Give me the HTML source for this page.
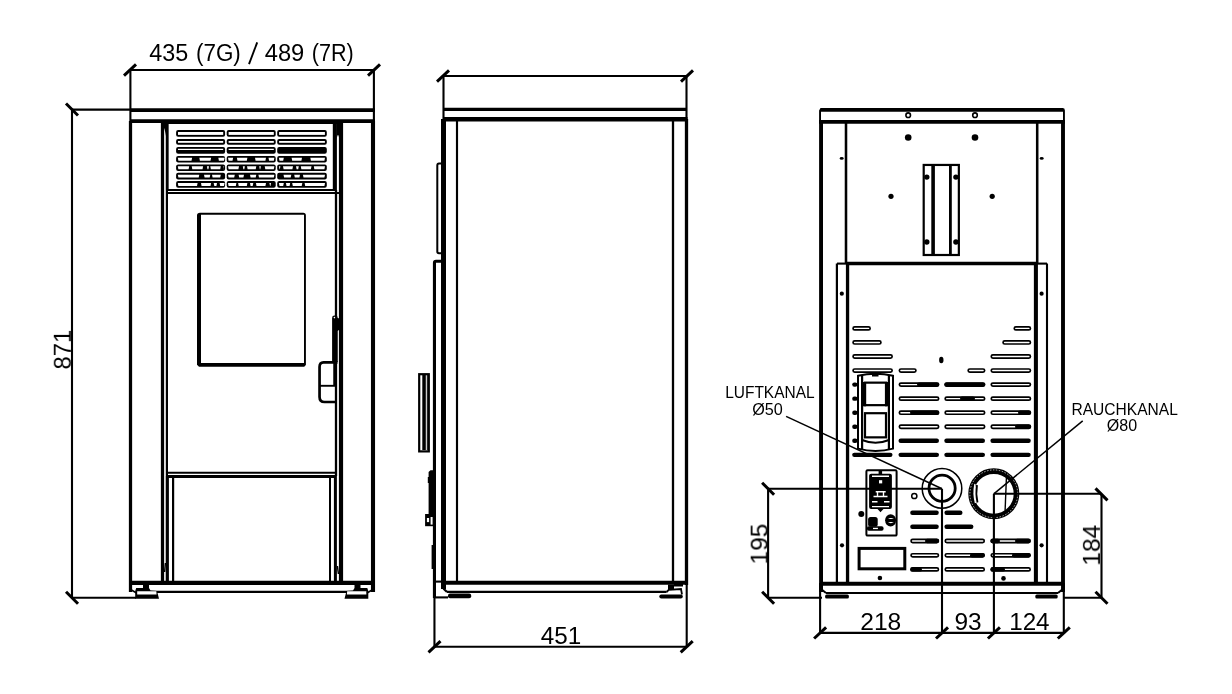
<!DOCTYPE html>
<html><head><meta charset="utf-8"><style>
html,body{margin:0;padding:0;background:#fff;}
svg{display:block;}
text{will-change:transform;}
text{font-family:"Liberation Sans",sans-serif;fill:#000;stroke:none;}
</style></head><body>
<svg width="1232" height="694" viewBox="0 0 1232 694">
<rect x="0" y="0" width="1232" height="694" fill="#fff"/>
<g stroke="#000" fill="none" stroke-linecap="butt">
<line x1="130" y1="70" x2="374" y2="70" stroke-width="2.1"/>
<line x1="130.4" y1="70" x2="130.4" y2="121" stroke-width="2.1"/>
<line x1="373.9" y1="70" x2="373.9" y2="121" stroke-width="2.1"/>
<line x1="124" y1="75.6" x2="136" y2="64.4" stroke-width="3"/>
<line x1="368" y1="75.6" x2="380" y2="64.4" stroke-width="3"/>
<text x="149.3" y="61" font-size="23.5" textLength="39" lengthAdjust="spacingAndGlyphs">435</text>
<text x="196" y="61" font-size="23.5" textLength="44.8" lengthAdjust="spacingAndGlyphs">(7G)</text>
<line x1="249" y1="64.2" x2="257.2" y2="42.4" stroke-width="1.9"/>
<text x="264.7" y="61" font-size="23.5" textLength="39.6" lengthAdjust="spacingAndGlyphs">489</text>
<text x="311.7" y="61" font-size="23.5" textLength="42" lengthAdjust="spacingAndGlyphs">(7R)</text>
<line x1="72" y1="109.5" x2="72" y2="597.7" stroke-width="2.1"/>
<line x1="72" y1="109.6" x2="130" y2="109.6" stroke-width="2.1"/>
<line x1="72" y1="597.7" x2="136" y2="597.7" stroke-width="2.1"/>
<line x1="66" y1="103.5" x2="78" y2="115.5" stroke-width="3"/>
<line x1="66" y1="591.7" x2="78" y2="603.7" stroke-width="3"/>
<text x="70.4" y="369.6" font-size="24.5" textLength="39.8" lengthAdjust="spacingAndGlyphs" transform="rotate(-90 70.4 369.6)">871</text>
<line x1="130" y1="110.1" x2="375" y2="110.1" stroke-width="3.8"/>
<line x1="130" y1="121.2" x2="375" y2="121.2" stroke-width="3.8"/>
<rect x="161" y="121" width="182" height="3" rx="0" stroke="none" fill="#000"/>
<line x1="130.5" y1="121" x2="130.5" y2="592" stroke-width="3.25"/>
<line x1="373" y1="121" x2="373" y2="592" stroke-width="4.1"/>
<line x1="162.5" y1="121" x2="162.5" y2="583" stroke-width="3.25"/>
<line x1="167.2" y1="121" x2="167.2" y2="190" stroke-width="2.9"/>
<line x1="166.9" y1="190" x2="166.9" y2="583" stroke-width="2.2"/>
<path d="M164,122 L166,122 L166,136 Q165,130 164,128 Z" stroke-width="0" fill="#000"/>
<rect x="332.8" y="121" width="4.1" height="69.5" rx="0" stroke="none" fill="#000"/>
<line x1="336" y1="190" x2="336" y2="476" stroke-width="2.3"/>
<line x1="341" y1="121" x2="341" y2="583" stroke-width="4.2"/>
<path d="M336.5,121 L339.5,121 L339.5,140 Q338,130 336.5,140 Z" stroke-width="0" fill="#000"/>
<line x1="167" y1="189.9" x2="335.9" y2="189.9" stroke-width="2"/>
<line x1="167" y1="193" x2="343" y2="193" stroke-width="2"/>
<rect x="176.1" y="130.1" width="49.0" height="6.7" rx="2" stroke="none" fill="#000"/>
<rect x="178.0" y="132.0" width="45.2" height="2.9" rx="0" stroke="none" fill="#fff"/>
<rect x="226.7" y="130.1" width="49.0" height="6.7" rx="2" stroke="none" fill="#000"/>
<rect x="228.6" y="132.0" width="45.2" height="2.9" rx="0" stroke="none" fill="#fff"/>
<rect x="277.2" y="130.1" width="49.6" height="6.7" rx="2" stroke="none" fill="#000"/>
<rect x="279.09999999999997" y="132.0" width="45.8" height="2.9" rx="0" stroke="none" fill="#fff"/>
<rect x="176.1" y="139.1" width="49.0" height="5.6" rx="2" stroke="none" fill="#000"/>
<rect x="178.0" y="141.0" width="45.2" height="1.8" rx="0" stroke="none" fill="#fff"/>
<rect x="226.7" y="139.1" width="49.0" height="5.6" rx="2" stroke="none" fill="#000"/>
<rect x="228.6" y="141.0" width="45.2" height="1.8" rx="0" stroke="none" fill="#fff"/>
<rect x="277.2" y="139.1" width="49.6" height="5.6" rx="2" stroke="none" fill="#000"/>
<rect x="279.09999999999997" y="141.0" width="45.8" height="1.8" rx="0" stroke="none" fill="#fff"/>
<rect x="176.1" y="147.1" width="49.0" height="6.7" rx="2" stroke="none" fill="#000"/>
<rect x="178.0" y="148.79999999999998" width="45.2" height="1.2" rx="0" stroke="none" fill="#fff"/>
<rect x="226.7" y="147.1" width="49.0" height="6.7" rx="2" stroke="none" fill="#000"/>
<rect x="228.6" y="148.79999999999998" width="45.2" height="1.2" rx="0" stroke="none" fill="#fff"/>
<rect x="277.2" y="147.1" width="49.6" height="6.7" rx="2" stroke="none" fill="#000"/>
<rect x="176.1" y="155.9" width="49.0" height="6.7" rx="2" stroke="none" fill="#000"/>
<rect x="226.7" y="155.9" width="49.0" height="6.7" rx="2" stroke="none" fill="#000"/>
<rect x="277.2" y="155.9" width="49.6" height="6.7" rx="2" stroke="none" fill="#000"/>
<path d="M177.8,157.8 L192.1,157.8 L191.5,160.7 L178.4,160.7 Z" stroke-width="0" fill="#fff"/>
<path d="M199.3,157.8 L211.1,157.8 L210.5,160.7 L199.9,160.7 Z" stroke-width="0" fill="#fff"/>
<path d="M218.3,157.8 L224.6,157.8 L224.0,160.7 L218.9,160.7 Z" stroke-width="0" fill="#fff"/>
<path d="M228,157.8 L233.1,157.8 L232.5,160.7 L228.6,160.7 Z" stroke-width="0" fill="#fff"/>
<path d="M236.9,157.8 L247.4,157.8 L246.8,160.7 L237.5,160.7 Z" stroke-width="0" fill="#fff"/>
<path d="M255,157.8 L266,157.8 L265.4,160.7 L255.6,160.7 Z" stroke-width="0" fill="#fff"/>
<path d="M268.5,157.8 L274.4,157.8 L273.79999999999995,160.7 L269.1,160.7 Z" stroke-width="0" fill="#fff"/>
<path d="M278.9,157.8 L283.8,157.8 L283.2,160.7 L279.5,160.7 Z" stroke-width="0" fill="#fff"/>
<path d="M291.6,157.8 L302,157.8 L301.4,160.7 L292.20000000000005,160.7 Z" stroke-width="0" fill="#fff"/>
<path d="M310.3,157.8 L325,157.8 L324.4,160.7 L310.90000000000003,160.7 Z" stroke-width="0" fill="#fff"/>
<rect x="176.1" y="164.4" width="49.0" height="6.7" rx="2" stroke="none" fill="#000"/>
<rect x="226.7" y="164.4" width="49.0" height="6.7" rx="2" stroke="none" fill="#000"/>
<rect x="277.2" y="164.4" width="49.6" height="6.7" rx="2" stroke="none" fill="#000"/>
<path d="M177.8,166.3 L189.2,166.3 L188.6,169.2 L178.4,169.2 Z" stroke-width="0" fill="#fff"/>
<path d="M191.7,166.3 L203.1,166.3 L202.5,169.2 L192.29999999999998,169.2 Z" stroke-width="0" fill="#fff"/>
<path d="M206.9,166.3 L209,166.3 L208.4,169.2 L207.5,169.2 Z" stroke-width="0" fill="#fff"/>
<path d="M210.3,166.3 L220.8,166.3 L220.20000000000002,169.2 L210.9,169.2 Z" stroke-width="0" fill="#fff"/>
<path d="M223.4,166.3 L224.2,166.3 L223.6,169.2 L224.0,169.2 Z" stroke-width="0" fill="#fff"/>
<path d="M228,166.3 L239,166.3 L238.4,169.2 L228.6,169.2 Z" stroke-width="0" fill="#fff"/>
<path d="M242.8,166.3 L244.9,166.3 L244.3,169.2 L243.4,169.2 Z" stroke-width="0" fill="#fff"/>
<path d="M247,166.3 L256.3,166.3 L255.70000000000002,169.2 L247.6,169.2 Z" stroke-width="0" fill="#fff"/>
<path d="M259.2,166.3 L260.9,166.3 L260.29999999999995,169.2 L259.8,169.2 Z" stroke-width="0" fill="#fff"/>
<path d="M264.7,166.3 L274.4,166.3 L273.79999999999995,169.2 L265.3,169.2 Z" stroke-width="0" fill="#fff"/>
<path d="M278.9,166.3 L280.4,166.3 L279.79999999999995,169.2 L279.5,169.2 Z" stroke-width="0" fill="#fff"/>
<path d="M283,166.3 L293,166.3 L292.4,169.2 L283.6,169.2 Z" stroke-width="0" fill="#fff"/>
<path d="M296,166.3 L298.8,166.3 L298.2,169.2 L296.6,169.2 Z" stroke-width="0" fill="#fff"/>
<path d="M300.8,166.3 L311.5,166.3 L310.9,169.2 L301.40000000000003,169.2 Z" stroke-width="0" fill="#fff"/>
<path d="M313.8,166.3 L325,166.3 L324.4,169.2 L314.40000000000003,169.2 Z" stroke-width="0" fill="#fff"/>
<rect x="176.1" y="172.8" width="49.0" height="6.7" rx="2" stroke="none" fill="#000"/>
<rect x="226.7" y="172.8" width="49.0" height="6.7" rx="2" stroke="none" fill="#000"/>
<rect x="277.2" y="172.8" width="49.6" height="6.7" rx="2" stroke="none" fill="#000"/>
<path d="M177.8,174.70000000000002 L199.3,174.70000000000002 L198.70000000000002,177.6 L178.4,177.6 Z" stroke-width="0" fill="#fff"/>
<path d="M204,174.70000000000002 L210.3,174.70000000000002 L209.70000000000002,177.6 L204.6,177.6 Z" stroke-width="0" fill="#fff"/>
<path d="M212,174.70000000000002 L220.8,174.70000000000002 L220.20000000000002,177.6 L212.6,177.6 Z" stroke-width="0" fill="#fff"/>
<path d="M228,174.70000000000002 L234.8,174.70000000000002 L234.20000000000002,177.6 L228.6,177.6 Z" stroke-width="0" fill="#fff"/>
<path d="M238.6,174.70000000000002 L244,174.70000000000002 L243.4,177.6 L239.2,177.6 Z" stroke-width="0" fill="#fff"/>
<path d="M250,174.70000000000002 L256.3,174.70000000000002 L255.70000000000002,177.6 L250.6,177.6 Z" stroke-width="0" fill="#fff"/>
<path d="M258.4,174.70000000000002 L274.4,174.70000000000002 L273.79999999999995,177.6 L259.0,177.6 Z" stroke-width="0" fill="#fff"/>
<path d="M283.5,174.70000000000002 L291.3,174.70000000000002 L290.7,177.6 L284.1,177.6 Z" stroke-width="0" fill="#fff"/>
<path d="M294.2,174.70000000000002 L300,174.70000000000002 L299.4,177.6 L294.8,177.6 Z" stroke-width="0" fill="#fff"/>
<path d="M302.9,174.70000000000002 L325,174.70000000000002 L324.4,177.6 L303.5,177.6 Z" stroke-width="0" fill="#fff"/>
<rect x="176.1" y="181.1" width="49.0" height="6.7" rx="2" stroke="none" fill="#000"/>
<rect x="226.7" y="181.1" width="49.0" height="6.7" rx="2" stroke="none" fill="#000"/>
<rect x="277.2" y="181.1" width="49.6" height="6.7" rx="2" stroke="none" fill="#000"/>
<path d="M177.8,183.0 L197.6,183.0 L197.0,185.89999999999998 L178.4,185.89999999999998 Z" stroke-width="0" fill="#fff"/>
<path d="M201,183.0 L211.1,183.0 L210.5,185.89999999999998 L201.6,185.89999999999998 Z" stroke-width="0" fill="#fff"/>
<path d="M213.7,183.0 L217,183.0 L216.4,185.89999999999998 L214.29999999999998,185.89999999999998 Z" stroke-width="0" fill="#fff"/>
<path d="M219.6,183.0 L224.6,183.0 L224.0,185.89999999999998 L220.2,185.89999999999998 Z" stroke-width="0" fill="#fff"/>
<path d="M228,183.0 L236.4,183.0 L235.8,185.89999999999998 L228.6,185.89999999999998 Z" stroke-width="0" fill="#fff"/>
<path d="M238.1,183.0 L247.4,183.0 L246.8,185.89999999999998 L238.7,185.89999999999998 Z" stroke-width="0" fill="#fff"/>
<path d="M250,183.0 L253.3,183.0 L252.70000000000002,185.89999999999998 L250.6,185.89999999999998 Z" stroke-width="0" fill="#fff"/>
<path d="M255.9,183.0 L266,183.0 L265.4,185.89999999999998 L256.5,185.89999999999998 Z" stroke-width="0" fill="#fff"/>
<path d="M269.4,183.0 L271,183.0 L270.4,185.89999999999998 L270.0,185.89999999999998 Z" stroke-width="0" fill="#fff"/>
<path d="M278.9,183.0 L283.8,183.0 L283.2,185.89999999999998 L279.5,185.89999999999998 Z" stroke-width="0" fill="#fff"/>
<path d="M285.9,183.0 L290.2,183.0 L289.59999999999997,185.89999999999998 L286.5,185.89999999999998 Z" stroke-width="0" fill="#fff"/>
<path d="M292.2,183.0 L302.3,183.0 L301.7,185.89999999999998 L292.8,185.89999999999998 Z" stroke-width="0" fill="#fff"/>
<path d="M304.6,183.0 L325,183.0 L324.4,185.89999999999998 L305.20000000000005,185.89999999999998 Z" stroke-width="0" fill="#fff"/>
<path fill-rule="evenodd" stroke="none" fill="#000" d="M197,215.5 Q197,212.8 200,212.8 L303.2,212.8 Q305.9,212.8 305.9,215.5 L305.9,365 L304.2,366.7 L199,366.7 L197,364.7 Z M201,214.7 L304,214.7 L304,363 L201,363 Z"/>
<path d="M332.1,362 L332.1,318 Q332.1,315.6 334.5,315.6 L335.5,315.6 Q337.7,315.6 337.7,318 L339.5,318.6 L339.5,329.5 L337.7,331 L337.7,362 Z" stroke-width="0" fill="#000"/>
<circle cx="334.4" cy="317.6" r="0.8" stroke="none" fill="#fff"/>
<path d="M337.5,362.35 L323.5,362.35 Q319.55,362.35 319.55,367 L319.55,397 Q319.55,402 324.5,402 L337,402" stroke-width="2.7" fill="none"/>
<line x1="320" y1="385.8" x2="337" y2="385.8" stroke-width="1.9"/>
<line x1="334.15" y1="363" x2="334.15" y2="385" stroke-width="1.8"/>
<line x1="167" y1="472.8" x2="336" y2="472.8" stroke-width="2"/>
<line x1="167" y1="476.4" x2="336" y2="476.4" stroke-width="3"/>
<line x1="173.1" y1="476" x2="173.1" y2="583" stroke-width="2.2"/>
<line x1="167.4" y1="476" x2="167.4" y2="583" stroke-width="3"/>
<line x1="165.4" y1="563" x2="164.6" y2="572" stroke-width="1.4"/>
<line x1="337.4" y1="566" x2="338.4" y2="574" stroke-width="1.4"/>
<line x1="335.4" y1="476" x2="335.4" y2="583" stroke-width="3"/>
<line x1="330" y1="476" x2="330" y2="583" stroke-width="2"/>
<line x1="129" y1="582.85" x2="375" y2="582.85" stroke-width="4.1"/>
<line x1="150" y1="591.8" x2="355" y2="591.8" stroke-width="2.3"/>
<path d="M143,584 L149,584 L149,588 L150.5,590.6 L157,591 L159,598.7 L135.2,598.7 L135.2,591 L136.2,588 L143,588 Z" stroke-width="0" fill="#000"/>
<path d="M137.2,591.3 L156.3,591.3 L156.6,594.4 L137.2,594.4 Z" stroke-width="0" fill="#fff"/>
<path d="M131.5,590 L136.5,593" stroke-width="1.5" fill="none"/>
<path d="M360.5,584 L354.5,584 L354.5,588 L353.0,590.6 L346.5,591 L344.5,598.7 L368.3,598.7 L368.3,591 L367.3,588 L360.5,588 Z" stroke-width="0" fill="#000"/>
<path d="M366.3,591.3 L347.2,591.3 L346.9,594.4 L366.3,594.4 Z" stroke-width="0" fill="#fff"/>
<path d="M372.0,590 L367.0,593" stroke-width="1.5" fill="none"/>
<line x1="443" y1="76" x2="687" y2="76" stroke-width="2.1"/>
<line x1="443.5" y1="76" x2="443.5" y2="120" stroke-width="2.1"/>
<line x1="686.5" y1="76" x2="686.5" y2="120" stroke-width="2.1"/>
<line x1="437" y1="81.6" x2="449" y2="70.4" stroke-width="3"/>
<line x1="681" y1="81.6" x2="693" y2="70.4" stroke-width="3"/>
<line x1="443" y1="109.3" x2="687" y2="109.3" stroke-width="3.2"/>
<line x1="443" y1="119.2" x2="687.5" y2="119.2" stroke-width="4.6"/>
<line x1="443.5" y1="119" x2="443.5" y2="589" stroke-width="5"/>
<line x1="457" y1="119" x2="457" y2="583" stroke-width="2.15"/>
<line x1="673" y1="119" x2="673" y2="583" stroke-width="2.3"/>
<line x1="686.5" y1="119" x2="686.5" y2="585" stroke-width="3.3"/>
<path d="M442,163.5 L439,163.5 Q437.3,163.5 437.3,165.5 L437.3,251.5 Q437.3,253.3 439,253.3 L442,253.3" stroke-width="2" fill="none"/>
<path d="M442,261.3 L436,261.3 Q434.45,261.3 434.45,263 L434.45,598" stroke-width="3.1" fill="none"/>
<rect x="419.2" y="374.2" width="9.6" height="77.2" rx="0" stroke-width="2.2" fill="none"/>
<rect x="422.3" y="375" width="3.5" height="75" rx="0" stroke="none" fill="#000"/>
<line x1="427.3" y1="375" x2="427.3" y2="450" stroke-width="1"/>
<path d="M428.6,515 L428.6,477 L427.8,477 L427.8,483 L428.6,483 L428.6,472 L430.5,470.2 L433.5,470.2 L433.5,515 Z" stroke-width="0" fill="#000"/>
<rect x="425.1" y="514" width="8.4" height="12.2" rx="0" stroke="none" fill="#000"/>
<rect x="426.9" y="518" width="2.2" height="4.1" rx="0" stroke="none" fill="#fff"/>
<rect x="430.6" y="517" width="2.0" height="7.6" rx="0" stroke="none" fill="#fff"/>
<rect x="431.6" y="545" width="3.0" height="24" rx="0" stroke="none" fill="#000"/>
<line x1="443" y1="582.8" x2="686" y2="582.8" stroke-width="4"/>
<line x1="447" y1="591.9" x2="666.6" y2="591.9" stroke-width="2.15"/>
<path d="M666.6,592 L668.7,589.9 L681,589 L682,594.5" stroke-width="1.8" fill="none"/>
<rect x="668" y="584.5" width="6" height="5.5" rx="0" stroke="none" fill="#000"/>
<rect x="674" y="583" width="9" height="3.5" rx="0" stroke="none" fill="#000"/>
<line x1="434.6" y1="581.6" x2="443" y2="581.6" stroke-width="2.1"/>
<line x1="434.6" y1="597.4" x2="448" y2="597.4" stroke-width="2.1"/>
<path d="M443.9,585 L443.9,589 L447,592" stroke-width="2.2" fill="none"/>
<rect x="448" y="593.4" width="23.2" height="4.9" rx="2" stroke="none" fill="#000"/>
<rect x="659.3" y="594.5" width="23.5" height="4.0" rx="2" stroke="none" fill="#000"/>
<line x1="434.45" y1="597" x2="434.45" y2="647" stroke-width="2.1"/>
<line x1="686.7" y1="585" x2="686.7" y2="647" stroke-width="2.1"/>
<line x1="434.4" y1="646.8" x2="686.9" y2="646.8" stroke-width="2.1"/>
<line x1="428.5" y1="652.4" x2="440.5" y2="641.1999999999999" stroke-width="3"/>
<line x1="680.7" y1="652.4" x2="692.7" y2="641.1999999999999" stroke-width="3"/>
<text x="540.8" y="643.7" font-size="23.5" textLength="40.5" lengthAdjust="spacingAndGlyphs">451</text>
<path d="M819.1,110.5 L820.5,108.1 L1062.5,108.1 Q1064.9,108.1 1064.9,110.5 L1064.9,122 L1063,122 L1063,111.8 L821,111.8 L821,122 L819.1,122 Z" stroke-width="0" fill="#000"/>
<line x1="819" y1="121.95" x2="1065" y2="121.95" stroke-width="3.7"/>
<line x1="821.05" y1="121" x2="821.05" y2="592" stroke-width="3.9"/>
<line x1="1063" y1="121" x2="1063" y2="592" stroke-width="3.9"/>
<circle cx="908.2" cy="115.2" r="2.3" stroke-width="1.6" fill="none"/>
<circle cx="975" cy="115.2" r="2.3" stroke-width="1.6" fill="none"/>
<circle cx="908.2" cy="137.5" r="3.3" stroke="none" fill="#000"/>
<circle cx="975" cy="137.5" r="3.3" stroke="none" fill="#000"/>
<circle cx="891" cy="196.3" r="2.6" stroke="none" fill="#000"/>
<circle cx="992.2" cy="196.3" r="2.6" stroke="none" fill="#000"/>
<ellipse cx="841.7" cy="158.4" rx="2" ry="1.3" fill="#000" stroke="none"/><ellipse cx="1041.7" cy="158.4" rx="2" ry="1.3" fill="#000" stroke="none"/>
<line x1="846" y1="122" x2="846" y2="263" stroke-width="2.55"/>
<line x1="1037.2" y1="122" x2="1037.2" y2="263" stroke-width="2.55"/>
<rect x="923.7" y="164.95" width="35.15" height="90.05" rx="0" stroke-width="2.2" fill="none"/>
<line x1="933.1" y1="164.4" x2="933.1" y2="255" stroke-width="3.6"/>
<line x1="950.4" y1="164.4" x2="950.4" y2="255" stroke-width="2.8"/>
<circle cx="926.8" cy="177.1" r="2.7" stroke="none" fill="#000"/>
<circle cx="955.9" cy="177.1" r="2.7" stroke="none" fill="#000"/>
<circle cx="926.8" cy="242" r="2.7" stroke="none" fill="#000"/>
<circle cx="955.9" cy="242" r="2.7" stroke="none" fill="#000"/>
<line x1="846.5" y1="263.4" x2="1037" y2="263.4" stroke-width="3.45"/>
<line x1="837" y1="263.6" x2="847" y2="263.6" stroke-width="2.1"/>
<line x1="1036" y1="263.6" x2="1047" y2="263.6" stroke-width="2.1"/>
<line x1="836.9" y1="263.6" x2="836.9" y2="583" stroke-width="2.2"/>
<line x1="1047" y1="263.6" x2="1047" y2="583" stroke-width="2.1"/>
<line x1="847.55" y1="263" x2="847.55" y2="583" stroke-width="3.3"/>
<line x1="1035.9" y1="263" x2="1035.9" y2="583" stroke-width="4.05"/>
<circle cx="841.8" cy="293.7" r="2.1" stroke="none" fill="#000"/>
<circle cx="1041.6" cy="293.7" r="2.1" stroke="none" fill="#000"/>
<circle cx="842" cy="545.3" r="2.1" stroke="none" fill="#000"/>
<circle cx="1041.6" cy="545.3" r="2.1" stroke="none" fill="#000"/>
<circle cx="879.9" cy="578" r="2.3" stroke="none" fill="#000"/>
<circle cx="1003.5" cy="578.4" r="2.3" stroke="none" fill="#000"/>
<rect x="853.0500000000001" y="326.84999999999997" width="17.1" height="3.1" rx="1.6" stroke-width="1.7" fill="none"/>
<rect x="853.0500000000001" y="340.9" width="27.9" height="3.1" rx="1.6" stroke-width="1.7" fill="none"/>
<rect x="853.0500000000001" y="354.95" width="39.1" height="3.1" rx="1.6" stroke-width="1.7" fill="none"/>
<rect x="853.0500000000001" y="368.99999999999994" width="39.1" height="3.1" rx="1.6" stroke-width="1.7" fill="none"/>
<rect x="1014.25" y="326.84999999999997" width="16.2" height="3.1" rx="1.6" stroke-width="1.7" fill="none"/>
<rect x="1003.0500000000001" y="340.9" width="27.4" height="3.1" rx="1.6" stroke-width="1.7" fill="none"/>
<rect x="991.25" y="354.95" width="39.2" height="3.1" rx="1.6" stroke-width="1.7" fill="none"/>
<rect x="991.25" y="368.99999999999994" width="39.2" height="3.1" rx="1.6" stroke-width="1.7" fill="none"/>
<rect x="899.35" y="368.99999999999994" width="16.6" height="3.1" rx="1.6" stroke-width="1.7" fill="none"/>
<rect x="968.15" y="368.99999999999994" width="16.5" height="3.1" rx="1.6" stroke-width="1.7" fill="none"/>
<rect x="899.35" y="383.04999999999995" width="39.3" height="3.1" rx="1.6" stroke-width="1.7" fill="none"/>
<rect x="945.15" y="383.04999999999995" width="39.5" height="3.1" rx="1.6" stroke-width="1.7" fill="none"/>
<rect x="991.25" y="383.04999999999995" width="39.2" height="3.1" rx="1.6" stroke-width="1.7" fill="none"/>
<rect x="899.35" y="397.09999999999997" width="39.3" height="3.1" rx="1.6" stroke-width="1.7" fill="none"/>
<rect x="945.15" y="397.09999999999997" width="39.5" height="3.1" rx="1.6" stroke-width="1.7" fill="none"/>
<rect x="991.25" y="397.09999999999997" width="39.2" height="3.1" rx="1.6" stroke-width="1.7" fill="none"/>
<rect x="899.35" y="411.15" width="39.3" height="3.1" rx="1.6" stroke-width="1.7" fill="none"/>
<rect x="945.15" y="411.15" width="39.5" height="3.1" rx="1.6" stroke-width="1.7" fill="none"/>
<rect x="991.25" y="411.15" width="39.2" height="3.1" rx="1.6" stroke-width="1.7" fill="none"/>
<rect x="899.35" y="425.2" width="39.3" height="3.1" rx="1.6" stroke-width="1.7" fill="none"/>
<rect x="945.15" y="425.2" width="39.5" height="3.1" rx="1.6" stroke-width="1.7" fill="none"/>
<rect x="991.25" y="425.2" width="39.2" height="3.1" rx="1.6" stroke-width="1.7" fill="none"/>
<rect x="944.3" y="382.4" width="40.7" height="4.4" rx="2.2" stroke="none" fill="#000"/>
<rect x="917" y="382.4" width="22" height="4.4" rx="2.2" stroke="none" fill="#000"/>
<rect x="910" y="410.5" width="29" height="4.4" rx="2.2" stroke="none" fill="#000"/>
<rect x="960" y="396.45" width="15" height="4.4" rx="2.2" stroke="none" fill="#000"/>
<rect x="1015" y="424.55" width="15.8" height="4.4" rx="2.2" stroke="none" fill="#000"/>
<rect x="1018" y="410.5" width="12.8" height="4.4" rx="2.2" stroke="none" fill="#000"/>
<rect x="898.5" y="438.59999999999997" width="40.5" height="4.4" rx="2.2" stroke="none" fill="#000"/>
<rect x="944.3" y="438.59999999999997" width="40.7" height="4.4" rx="2.2" stroke="none" fill="#000"/>
<rect x="990.4" y="438.59999999999997" width="40.4" height="4.4" rx="2.2" stroke="none" fill="#000"/>
<rect x="898.5" y="452.65" width="40.5" height="4.4" rx="2.2" stroke="none" fill="#000"/>
<rect x="944.3" y="452.65" width="40.7" height="4.4" rx="2.2" stroke="none" fill="#000"/>
<rect x="990.4" y="452.65" width="40.4" height="4.4" rx="2.2" stroke="none" fill="#000"/>
<rect x="852.2" y="382.4" width="5.3" height="4.4" rx="2.2" stroke="none" fill="#000"/>
<rect x="852.2" y="396.45" width="5.3" height="4.4" rx="2.2" stroke="none" fill="#000"/>
<rect x="852.2" y="410.5" width="5.3" height="4.4" rx="2.2" stroke="none" fill="#000"/>
<rect x="852.2" y="424.55" width="5.3" height="4.4" rx="2.2" stroke="none" fill="#000"/>
<rect x="852.2" y="438.59999999999997" width="5.3" height="4.4" rx="2.2" stroke="none" fill="#000"/>
<rect x="852.2" y="452.65" width="40.3" height="4.4" rx="2.2" stroke="none" fill="#000"/>
<ellipse cx="941.3" cy="360" rx="2.2" ry="3.2" fill="#000" stroke="none"/>
<path d="M858,375.8 Q875.5,371.5 893,375.8 L893,448.6 Q875.5,453.5 858,448.6 Z" stroke-width="2" fill="#fff"/>
<line x1="862.1" y1="375" x2="862.1" y2="449" stroke-width="2.2"/>
<line x1="888.9" y1="375" x2="888.9" y2="449" stroke-width="2.2"/>
<rect x="872" y="372.2" width="6.5" height="4.3" rx="0" stroke="none" fill="#000"/>
<rect x="865" y="382.65" width="21" height="22.5" rx="0" stroke-width="2.2" fill="none"/>
<rect x="862" y="382" width="4.1" height="24.3" rx="0" stroke="none" fill="#000"/>
<rect x="885" y="382" width="5" height="24.3" rx="0" stroke="none" fill="#000"/>
<rect x="865" y="413.2" width="21" height="24.15" rx="0" stroke-width="2.2" fill="none"/>
<path d="M862,440 Q875.5,445.5 889,440" stroke-width="2" fill="none"/>
<rect x="910.2" y="510.59999999999997" width="28.6" height="4.4" rx="2.2" stroke="none" fill="#000"/>
<rect x="944.4" y="510.59999999999997" width="18.1" height="4.4" rx="2.2" stroke="none" fill="#000"/>
<rect x="910.2" y="524.5999999999999" width="28.6" height="4.4" rx="2.2" stroke="none" fill="#000"/>
<rect x="944.4" y="524.5999999999999" width="29.0" height="4.4" rx="2.2" stroke="none" fill="#000"/>
<rect x="911.0500000000001" y="539.45" width="27.4" height="3.1" rx="1.6" stroke-width="1.7" fill="none"/>
<rect x="945.25" y="539.45" width="39.0" height="3.1" rx="1.6" stroke-width="1.7" fill="none"/>
<rect x="991.25" y="539.45" width="38.9" height="3.1" rx="1.6" stroke-width="1.7" fill="none"/>
<rect x="911.0500000000001" y="553.75" width="27.4" height="3.1" rx="1.6" stroke-width="1.7" fill="none"/>
<rect x="945.25" y="553.75" width="39.0" height="3.1" rx="1.6" stroke-width="1.7" fill="none"/>
<rect x="991.25" y="553.75" width="38.9" height="3.1" rx="1.6" stroke-width="1.7" fill="none"/>
<rect x="911.0500000000001" y="567.85" width="27.4" height="3.1" rx="1.6" stroke-width="1.7" fill="none"/>
<rect x="945.25" y="567.85" width="39.0" height="3.1" rx="1.6" stroke-width="1.7" fill="none"/>
<rect x="991.25" y="567.85" width="38.9" height="3.1" rx="1.6" stroke-width="1.7" fill="none"/>
<rect x="925" y="538.8" width="13.8" height="4.4" rx="2.2" stroke="none" fill="#000"/>
<rect x="970" y="553.0999999999999" width="14.6" height="4.4" rx="2.2" stroke="none" fill="#000"/>
<rect x="990.4" y="538.8" width="9.6" height="4.4" rx="2.2" stroke="none" fill="#000"/>
<rect x="1015" y="538.8" width="15.5" height="4.4" rx="2.2" stroke="none" fill="#000"/>
<rect x="990.4" y="567.1999999999999" width="14.6" height="4.4" rx="2.2" stroke="none" fill="#000"/>
<rect x="1012" y="553.0999999999999" width="18.5" height="4.4" rx="2.2" stroke="none" fill="#000"/>
<rect x="910.2" y="567.1999999999999" width="11.8" height="4.4" rx="2.2" stroke="none" fill="#000"/>
<rect x="866.4" y="470.2" width="30.2" height="65.4" rx="1.2" stroke-width="2" fill="none"/>
<rect x="869.1" y="473.8" width="22.8" height="35.2" rx="2" stroke="none" fill="#000"/>
<rect x="878.6" y="471" width="3.5" height="3" rx="0" stroke="none" fill="#000"/>
<path d="M877.5,509 L883.5,509 L880.5,512.3 Z" stroke-width="0" fill="#000"/>
<rect x="879" y="480.2" width="3.2" height="3.2" rx="0" stroke="none" fill="#fff"/>
<path d="M872,476.2 L889,476.2 M872,506.6 L889,506.6 M875.7,491.7 L885.7,491.7 M877.5,491.7 L877.5,496 M883.5,491.7 L883.5,496 M873.5,496.5 L887.5,496.5 M872,501.8 L877.5,501.8 M884,501.8 L889.5,501.8" stroke="#fff" stroke-width="1.4"/>
<circle cx="861.3" cy="514.1" r="3" stroke="none" fill="#000"/>
<rect x="868.1" y="517" width="9.6" height="9.8" rx="2.5" stroke="none" fill="#000"/>
<rect x="866.9" y="526.2" width="16.7" height="4.5" rx="2" stroke="none" fill="#000"/>
<rect x="873" y="527.8" width="4.9" height="1.3" rx="0" stroke="none" fill="#fff"/>
<ellipse cx="890.6" cy="520.35" rx="5.5" ry="6.1" fill="#000" stroke="none"/>
<path d="M888,519 Q890.8,516.8 893.8,519 Z" stroke-width="0" fill="#fff"/>
<path d="M888,522.1 L893.8,522.1 Q890.8,524.3 888,522.1 Z" stroke-width="0" fill="#fff"/>
<rect x="859.1" y="548.4" width="45.7" height="20.4" rx="0" stroke-width="3" fill="none"/>
<circle cx="942" cy="488.4" r="19.8" stroke-width="1.5" fill="none"/>
<circle cx="942.1" cy="488.2" r="13.1" stroke-width="2.8" fill="none"/>
<circle cx="993.8" cy="493.8" r="22.7" stroke-width="5.6" fill="none"/>
<circle cx="993.8" cy="493.8" r="23.9" stroke="#fff" stroke-width="0.7" stroke-dasharray="1.5 1.5" fill="none"/>
<path d="M975,484 Q973,494 975.5,503" stroke-width="1.4" fill="none" stroke="#fff"/>
<path d="M977,485 Q975.5,494 977.5,502.5" stroke-width="1.8" fill="none"/>
<line x1="1006.4" y1="478" x2="1005.1" y2="510.7" stroke-width="1.4"/>
<circle cx="914.3" cy="496" r="2.6" stroke-width="1.5" fill="none"/>
<line x1="823" y1="583.8" x2="1063" y2="583.8" stroke-width="4"/>
<line x1="826" y1="593" x2="1058" y2="593" stroke-width="2.2"/>
<path d="M821,589 L826,593" stroke-width="2" fill="none"/>
<rect x="825.1" y="594.6" width="23.8" height="3.9" rx="1.5" stroke="none" fill="#000"/>
<rect x="1035.3" y="594.6" width="22.4" height="4.0" rx="1.5" stroke="none" fill="#000"/>
<path d="M1062.9,589 L1058,593" stroke-width="2" fill="none"/>
<line x1="768" y1="488.8" x2="942" y2="488.8" stroke-width="2.1"/>
<line x1="768" y1="597.7" x2="822" y2="597.7" stroke-width="2.1"/>
<line x1="768.1" y1="488.8" x2="768.1" y2="597.7" stroke-width="2.1"/>
<line x1="762.1" y1="482.8" x2="774.1" y2="494.8" stroke-width="3"/>
<line x1="762.1" y1="591.7" x2="774.1" y2="603.7" stroke-width="3"/>
<text x="768.1" y="564.4" font-size="24.5" textLength="40.7" lengthAdjust="spacingAndGlyphs" transform="rotate(-90 768.1 564.4)">195</text>
<line x1="993.8" y1="493.8" x2="1101.5" y2="493.8" stroke-width="2.1"/>
<line x1="1063.8" y1="597.8" x2="1101.5" y2="597.8" stroke-width="2.1"/>
<line x1="1101.5" y1="493.8" x2="1101.5" y2="597.8" stroke-width="2.1"/>
<line x1="1095.5" y1="488.4" x2="1107.5" y2="500.4" stroke-width="3"/>
<line x1="1095.5" y1="591.7" x2="1107.5" y2="603.7" stroke-width="3"/>
<text x="1099.7" y="565.8" font-size="24.5" textLength="41.1" lengthAdjust="spacingAndGlyphs" transform="rotate(-90 1099.7 565.8)">184</text>
<line x1="820.1" y1="583" x2="820.1" y2="633" stroke-width="2.1"/>
<line x1="942" y1="488.8" x2="942" y2="633" stroke-width="2.1"/>
<line x1="993.9" y1="493.8" x2="993.9" y2="633" stroke-width="2.1"/>
<line x1="1063.8" y1="583" x2="1063.8" y2="633" stroke-width="2.1"/>
<line x1="820" y1="632.9" x2="1064" y2="632.9" stroke-width="2.1"/>
<line x1="814.1" y1="638.5" x2="826.1" y2="627.3" stroke-width="3"/>
<line x1="936" y1="638.5" x2="948" y2="627.3" stroke-width="3"/>
<line x1="987.9" y1="638.5" x2="999.9" y2="627.3" stroke-width="3"/>
<line x1="1057.8" y1="638.5" x2="1069.8" y2="627.3" stroke-width="3"/>
<text x="860.3" y="629.6" font-size="23.5" textLength="41" lengthAdjust="spacingAndGlyphs">218</text>
<text x="954.5" y="629.6" font-size="23.5" textLength="27.2" lengthAdjust="spacingAndGlyphs">93</text>
<text x="1009.2" y="629.6" font-size="23.5" textLength="40.4" lengthAdjust="spacingAndGlyphs">124</text>
<line x1="786.1" y1="416.4" x2="942" y2="488.8" stroke-width="1.5"/>
<line x1="1082.7" y1="420.9" x2="993.8" y2="493.8" stroke-width="1.5"/>
<text x="725.2" y="398.2" font-size="16.3" textLength="89.4" lengthAdjust="spacingAndGlyphs">LUFTKANAL</text>
<text x="752.2" y="415" font-size="16.3" textLength="30.6" lengthAdjust="spacingAndGlyphs">&#216;50</text>
<text x="1071.5" y="415.2" font-size="16" textLength="106.3" lengthAdjust="spacingAndGlyphs">RAUCHKANAL</text>
<text x="1106.8" y="430.9" font-size="16" textLength="30.3" lengthAdjust="spacingAndGlyphs">&#216;80</text>
</g>
</svg>
</body></html>
